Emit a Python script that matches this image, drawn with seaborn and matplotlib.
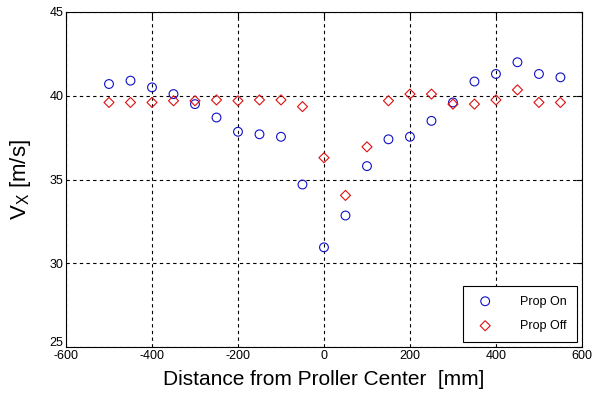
import numpy as np
import pandas as pd
import matplotlib
matplotlib.use("Agg")
import matplotlib.pyplot as plt
import matplotlib.transforms as mtransforms
import seaborn as sns

# distance from propeller center [mm]
distance = [-500, -450, -400, -350, -300, -250, -200, -150, -100, -50, 0,
            50, 100, 150, 200, 250, 300, 350, 400, 450, 500, 550]

# axial velocity [m/s]
vx_prop_on = [40.7, 40.9, 40.5, 40.1, 39.5, 38.7, 37.85, 37.7, 37.55, 34.7, 30.95,
              32.85, 35.8, 37.4, 37.55, 38.5, 39.6, 40.85, 41.3, 42.0, 41.3, 41.1]
vx_prop_off = [39.6, 39.6, 39.6, 39.7, 39.7, 39.75, 39.7, 39.75, 39.75, 39.35, 36.3,
               34.05, 36.95, 39.7, 40.1, 40.1, 39.5, 39.5, 39.75, 40.35, 39.6, 39.6]

x_ticks = [-600, -400, -200, 0, 200, 400, 600]
y_ticks = [25, 30, 35, 40, 45]

sns.set_style("white")
plt.rcParams['font.family'] = ['Liberation Sans', 'DejaVu Sans']
plt.rcParams['mathtext.fontset'] = 'custom'
plt.rcParams['mathtext.rm'] = 'Liberation Sans'
plt.rcParams['mathtext.it'] = 'Liberation Sans'
plt.rcParams['axes.unicode_minus'] = False
plt.rcParams['text.color'] = 'black'
plt.rcParams['axes.labelcolor'] = 'black'
plt.rcParams['xtick.color'] = 'black'
plt.rcParams['ytick.color'] = 'black'

df_on = pd.DataFrame({'x': distance, 'vx': vx_prop_on})
df_off = pd.DataFrame({'x': distance, 'vx': vx_prop_off})

fig = plt.figure(figsize=(5.92, 3.93), dpi=100)
ax = fig.add_axes([0.1115, 0.117, 0.8715, 0.8525])

sns.scatterplot(data=df_on, x='x', y='vx', ax=ax, marker='o', s=40,
                facecolors='none', edgecolors='#1010c8', linewidth=0.8,
                label='Prop On')
sns.scatterplot(data=df_off, x='x', y='vx', ax=ax, marker='D', s=26,
                facecolors='none', edgecolors='#e01010', linewidth=0.8,
                label='Prop Off')

ax.set_xlim(-600, 600)
ax.set_ylim(25, 45)
ax.set_xticks(x_ticks)
ax.set_yticks(y_ticks)
ax.tick_params(direction='in', length=4, labelsize=9, width=0.8,
               top=True, right=True, pad=2)
ax.grid(True, color='black', linestyle=(0, (3, 3)), linewidth=0.8)
for sp in ax.spines.values():
    sp.set_color('black')
    sp.set_linewidth(0.8)

# lift the bottom y label a little so it clears the -600 label
lbl = ax.get_yticklabels()[0]
lbl.set_transform(lbl.get_transform() +
                  mtransforms.ScaledTranslation(0, 4 / 72, fig.dpi_scale_trans))

ax.set_xlabel('Distance from Proller Center  [mm]', fontsize=15, labelpad=6)
ax.set_ylabel(r'V$_{\mathrm{X}}$ [m/s]', fontsize=16, labelpad=12)

leg = ax.legend(loc='lower right', fontsize=9, frameon=True, fancybox=False,
                edgecolor='black', framealpha=1, borderpad=0.8,
                labelspacing=1.0, handletextpad=1.8, borderaxespad=0.4)
leg.get_frame().set_linewidth(0.8)

fig.savefig('out.png', dpi=100)
